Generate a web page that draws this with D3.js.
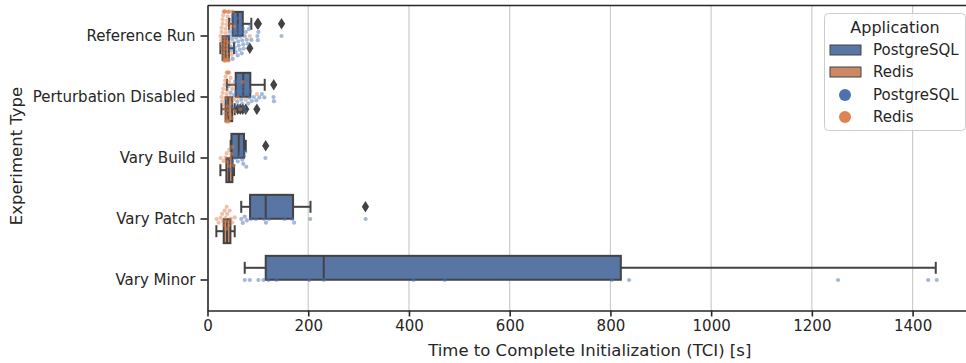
<!DOCTYPE html>
<html>
<head>
<meta charset="utf-8">
<script src="https://cdn.jsdelivr.net/npm/d3@7"></script>
<style>
    body { margin: 0; background: #fff; }
    svg { display: block; font-family: "DejaVu Sans", sans-serif; }
</style>
</head>
<body>
<div id="chart"></div>
<script>
// categories on the y axis
const experiments = ["Reference Run", "Perturbation Disabled", "Vary Build", "Vary Patch", "Vary Minor"];
const apps = ["PostgreSQL", "Redis"];
const xTicks = [0, 200, 400, 600, 800, 1000, 1200, 1400];

// box stats: [q1, median, q3, whiskerLow, whiskerHigh]
const pgBox = [
    [50, 60, 70, 42.7, 87],
    [56, 71, 85, 38.5, 113.6],
    [47.5, 62, 72.5, 46, 76],
    [84.5, 115.6, 169.9, 67, 204.5],
    [115.6, 230.8, 820.7, 73.9, 1446]
];
const redisBox = [
    [30, 36, 42.5, 25.6, 52.7],
    [36, 41, 49, 27.6, 54],
    [37.5, 42.7, 49.5, 25.6, 52.7],
    [32.2, 38.8, 45.5, 17.6, 54],
    null
];
const pgOutliers = [[99, 100, 101, 147], [131.5], [115.6], [313.6], []];
const redisOutliers = [[84], [60, 65, 70, 76, 98], [], [], []];

// individual runs (swarm)
const pgPoints = [
    [43, 44, 46, 47, 48, 49, 50, 50, 51, 52, 53, 54, 55, 56, 57, 58, 59, 60, 60, 61, 62, 63, 64, 65, 66, 67, 68, 69, 70, 71, 72, 74, 76, 78, 80, 82, 85, 87, 99, 100, 101, 147],
    [39, 42, 46, 50, 53, 55, 57, 59, 61, 63, 65, 67, 69, 70, 71, 72, 73, 75, 77, 79, 81, 83, 85, 88, 92, 97, 103, 108, 113, 131, 132],
    [46, 49, 55, 60, 63, 66, 69, 71, 73, 75, 77, 115],
    [67, 70, 74, 78, 86, 96, 112, 116, 122, 153, 168, 172, 204, 314],
    [74, 84, 101, 111, 121, 137, 202, 231, 409, 471, 803, 837, 1252, 1431, 1448]
];
const redisPoints = [
    [26, 27, 28, 28, 29, 29, 30, 30, 31, 31, 32, 32, 33, 33, 34, 34, 35, 35, 35, 36, 36, 36, 37, 37, 38, 38, 39, 39, 40, 40, 41, 41, 42, 42, 43, 44, 45, 46, 48, 50, 53, 84],
    [28, 29, 30, 31, 32, 33, 34, 35, 35, 36, 36, 37, 37, 38, 38, 39, 39, 40, 40, 41, 41, 42, 42, 43, 43, 44, 45, 46, 47, 48, 49, 50, 52, 54, 60, 65, 70, 76, 98],
    [26, 32, 36, 38, 40, 42, 43, 45, 47, 49, 52],
    [18, 22, 26, 29, 31, 33, 34, 36, 37, 38, 39, 40, 42, 44, 46, 49, 54],
    []
];

const boxColors = { PostgreSQL: "#5875a4", Redis: "#cc8963" };
const dotColors = { PostgreSQL: "#4c72b0", Redis: "#dd8452" };
const lineGray = "#434343";
const textColor = "#262626";

function drawChart() {
    const width = 966;
    const height = 363;
    const plot = { left: 207.5, right: 968, top: 5.5, bottom: 310.5 };

    const svg = d3.select("#chart")
        .append("svg")
        .attr("width", width)
        .attr("height", height);

    const xScale = d3.scaleLinear()
        .domain([0, 1510])
        .range([plot.left, plot.right]);

    const yScale = d3.scaleBand()
        .domain(experiments)
        .range([plot.top, plot.bottom])
        .padding(0);

    const bw = yScale.bandwidth();
    const cy = d => yScale(d) + bw / 2;

    // vertical grid lines
    svg.append("g")
        .selectAll("line")
        .data(xTicks.slice(1))
        .join("line")
        .attr("x1", d => xScale(d))
        .attr("x2", d => xScale(d))
        .attr("y1", plot.top)
        .attr("y2", plot.bottom)
        .attr("stroke", "#cccccc")
        .attr("stroke-width", 1.2);

    // boxes
    const boxH = bw * 0.4 * 0.98;
    const boxG = svg.append("g");
    const boxSets = [
        { app: "PostgreSQL", stats: pgBox, outliers: pgOutliers, shift: -0.2 },
        { app: "Redis", stats: redisBox, outliers: redisOutliers, shift: 0.2 }
    ];

    boxSets.forEach(set => {
        experiments.forEach((exp, i) => {
            const s = set.stats[i];
            if (!s) return;
            const [q1, med, q3, lo, hi] = s;
            const c = cy(exp) + set.shift * bw;
            const g = boxG.append("g")
                .attr("stroke", lineGray)
                .attr("stroke-width", 2);

            // whiskers and caps
            g.append("line").attr("x1", xScale(lo)).attr("x2", xScale(q1)).attr("y1", c).attr("y2", c);
            g.append("line").attr("x1", xScale(q3)).attr("x2", xScale(hi)).attr("y1", c).attr("y2", c);
            g.append("line").attr("x1", xScale(lo)).attr("x2", xScale(lo)).attr("y1", c - boxH / 4).attr("y2", c + boxH / 4);
            g.append("line").attr("x1", xScale(hi)).attr("x2", xScale(hi)).attr("y1", c - boxH / 4).attr("y2", c + boxH / 4);

            g.append("rect")
                .attr("x", xScale(q1))
                .attr("y", c - boxH / 2)
                .attr("width", xScale(q3) - xScale(q1))
                .attr("height", boxH)
                .attr("fill", boxColors[set.app]);

            g.append("line").attr("x1", xScale(med)).attr("x2", xScale(med)).attr("y1", c - boxH / 2).attr("y2", c + boxH / 2);

            // fliers as thin diamonds
            g.selectAll("path")
                .data(set.outliers[i])
                .join("path")
                .attr("d", "M0,-5.8L3.6,0L0,5.8L-3.6,0Z")
                .attr("transform", d => `translate(${xScale(d)},${c})`)
                .attr("fill", lineGray)
                .attr("stroke", "none");
        });
    });

    // swarm of individual runs (one swarm per category, both apps together)
    const r = 2.1;
    const limit = bw * 0.4;
    const dotG = svg.append("g");

    experiments.forEach((exp, i) => {
        const items = [];
        pgPoints[i].forEach(v => items.push({ app: "PostgreSQL", px: xScale(v) }));
        redisPoints[i].forEach(v => items.push({ app: "Redis", px: xScale(v) }));
        items.sort((a, b) => a.px - b.px);

        const d2 = (2 * r) * (2 * r);
        const placed = [];
        items.forEach(p => {
            const near = placed.filter(q => Math.abs(q.px - p.px) < 2 * r);
            const cands = [0];
            near.forEach(q => {
                const dy = Math.sqrt(Math.max(0, d2 - (q.px - p.px) ** 2));
                cands.push(q.off + dy, q.off - dy);
            });
            cands.sort((a, b) => Math.abs(a) - Math.abs(b));
            const ok = cands.find(c => near.every(q => (q.px - p.px) ** 2 + (q.off - c) ** 2 >= d2 - 0.01));
            p.off = ok === undefined ? 0 : ok;
            placed.push(p);
        });

        dotG.selectAll(null)
            .data(placed)
            .join("circle")
            .attr("cx", d => d.px)
            .attr("cy", d => cy(exp) + Math.max(-limit, Math.min(limit, d.off)))
            .attr("r", r)
            .attr("fill", d => dotColors[d.app])
            .attr("fill-opacity", 0.5);
    });

    // axes
    const xAxis = svg.append("g")
        .attr("transform", `translate(0,${plot.bottom})`)
        .call(d3.axisBottom(xScale).tickValues(xTicks).tickFormat(d3.format("d"))
            .tickSize(6).tickPadding(4).tickSizeOuter(0));
    const yAxis = svg.append("g")
        .attr("transform", `translate(${plot.left},0)`)
        .call(d3.axisLeft(yScale).tickSize(7).tickPadding(5).tickSizeOuter(0));

    [xAxis, yAxis].forEach(ax => {
        ax.select(".domain").attr("stroke", textColor).attr("stroke-width", 1.6);
        ax.selectAll(".tick line").attr("stroke", textColor).attr("stroke-width", 1.6);
        ax.selectAll(".tick text")
            .attr("fill", textColor)
            .style("font-size", "15px")
            .style("font-family", "DejaVu Sans");
    });

    // top spine
    svg.append("line")
        .attr("x1", plot.left).attr("x2", plot.right)
        .attr("y1", plot.top).attr("y2", plot.top)
        .attr("stroke", textColor).attr("stroke-width", 1.6);

    // axis titles
    svg.append("text")
        .attr("x", (plot.left + plot.right) / 2 + 2)
        .attr("y", 356)
        .attr("text-anchor", "middle")
        .attr("fill", textColor)
        .style("font-size", "16.5px")
        .text("Time to Complete Initialization (TCI) [s]");

    svg.append("text")
        .attr("transform", "translate(22,156) rotate(-90)")
        .attr("text-anchor", "middle")
        .attr("fill", textColor)
        .style("font-size", "16.5px")
        .text("Experiment Type");

    // legend
    const legend = svg.append("g");
    legend.append("rect")
        .attr("x", 824.5).attr("y", 13.5)
        .attr("width", 141).attr("height", 117)
        .attr("rx", 4)
        .attr("fill", "#fff").attr("fill-opacity", 0.8)
        .attr("stroke", "#cccccc");
    legend.append("text")
        .attr("x", 895).attr("y", 27)
        .attr("text-anchor", "middle")
        .attr("dominant-baseline", "central")
        .attr("fill", textColor)
        .style("font-size", "16px")
        .text("Application");

    const rows = [
        { label: "PostgreSQL", kind: "box", y: 50 },
        { label: "Redis", kind: "box", y: 72 },
        { label: "PostgreSQL", kind: "dot", y: 95 },
        { label: "Redis", kind: "dot", y: 117 }
    ];
    rows.forEach(row => {
        if (row.kind === "box") {
            legend.append("rect")
                .attr("x", 830).attr("y", row.y - 5)
                .attr("width", 31).attr("height", 10)
                .attr("fill", boxColors[row.label])
                .attr("stroke", lineGray).attr("stroke-width", 1);
        } else {
            legend.append("circle")
                .attr("cx", 845).attr("cy", row.y)
                .attr("r", 6)
                .attr("fill", dotColors[row.label]);
        }
        legend.append("text")
            .attr("x", 873).attr("y", row.y)
            .attr("dominant-baseline", "central")
            .attr("fill", textColor)
            .style("font-size", "15px")
            .text(row.label);
    });
}

drawChart();
</script>
</body>
</html>
